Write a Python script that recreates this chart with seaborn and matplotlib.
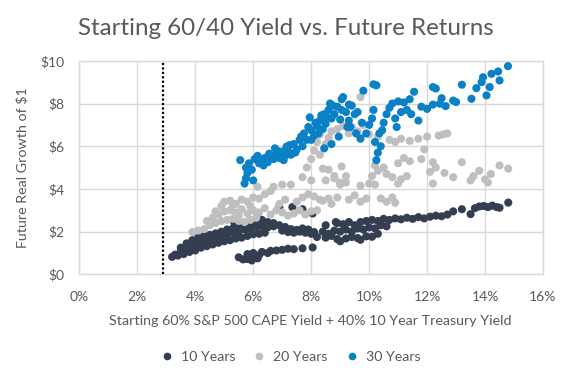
import pandas as pd
import matplotlib.pyplot as plt
import seaborn as sns
from matplotlib.lines import Line2D

# Future real growth of $1 vs starting 60/40 yield
# 10 Years
ten_x = [3.2, 3.4, 3.6, 3.8, 4.0, 4.2, 4.4, 4.6, 4.8, 5.0, 5.2, 5.4, 5.6, 5.8, 6.0, 6.2, 6.4,
         3.3, 3.5, 3.7, 3.9, 4.1, 4.3, 4.5, 4.7, 4.9, 5.1, 5.3, 5.5, 5.7, 5.9, 6.1, 6.3, 6.5, 6.7,
         3.5, 3.7, 3.9, 4.1, 4.3, 4.5, 4.7, 4.9, 5.1, 5.3, 5.5, 5.7, 5.9, 6.1, 6.3, 6.5, 6.7,
         6.9, 7.1, 7.3, 7.5, 7.7, 7.9, 8.1, 7.0, 7.2, 7.4, 7.6, 7.8, 8.0,
         5.35, 6.9, 7.35, 7.7, 8.05, 8.5, 8.85,
         5.5, 5.65, 5.8, 5.8, 6.0, 6.0, 6.2, 6.3, 6.5, 6.6, 6.8, 7.0, 7.2, 7.4, 7.7, 8.05, 5.95, 6.15,
         8.2, 8.5, 8.7, 8.9, 9.0, 9.2, 9.4, 9.6, 9.7, 9.9, 10.1, 10.3,
         8.4, 8.6, 8.8, 9.0, 9.2, 9.4, 9.6, 9.8, 10.0, 10.2, 10.4, 10.6,
         8.9, 9.1, 9.3, 9.5, 9.7, 9.9, 10.1, 10.3, 10.5, 10.7, 10.9, 11.1, 11.3, 11.5, 11.7,
         11.9, 12.1, 12.3, 12.5, 12.7, 12.9, 13.2, 13.5, 13.65, 13.8, 13.95, 14.1, 14.25, 14.4, 14.5, 14.8]
ten_y = [0.82, 0.88, 0.95, 1.05, 1.12, 1.25, 1.32, 1.40, 1.48, 1.55, 1.60, 1.68, 1.72, 1.80, 1.88, 1.90, 1.95,
         0.92, 1.10, 1.22, 1.35, 1.45, 1.55, 1.62, 1.70, 1.80, 1.88, 1.95, 2.02, 2.10, 2.15, 2.22, 2.25, 2.20, 2.25,
         1.25, 1.45, 1.60, 1.72, 1.80, 1.85, 1.92, 2.00, 2.10, 2.15, 2.25, 2.35, 2.40, 2.50, 2.55, 2.45, 2.40,
         2.30, 2.22, 2.12, 2.08, 2.15, 2.10, 1.98, 2.05, 1.98, 1.95, 2.00, 1.95, 1.90,
         2.40, 3.15, 3.15, 3.05, 2.85, 2.30, 2.45,
         0.80, 0.70, 0.72, 0.95, 0.82, 1.00, 0.90, 1.05, 1.00, 1.10, 1.12, 1.15, 1.20, 1.18, 1.22, 1.26, 0.65, 0.75,
         1.75, 1.72, 1.80, 1.65, 1.55, 1.68, 1.75, 1.70, 1.62, 1.78, 1.76, 1.90,
         2.00, 1.90, 2.05, 2.00, 2.10, 2.00, 2.15, 2.10, 2.20, 2.15, 2.30, 2.25,
         2.40, 2.35, 2.45, 2.30, 2.45, 2.50, 2.55, 2.50, 2.60, 2.55, 2.62, 2.58, 2.65, 2.60, 2.68,
         2.62, 2.70, 2.75, 2.72, 2.80, 2.95, 3.05, 2.82, 3.10, 3.18, 3.20, 3.15, 3.22, 3.15, 3.12, 3.36]

# 20 Years
twenty_x = [3.9, 4.1, 4.3, 4.5, 4.7, 4.9, 5.1, 5.3, 5.5, 5.7, 5.9, 6.1,
            4.4, 4.6, 4.8, 5.0, 5.2, 5.4, 5.6, 5.8, 6.0, 6.2, 6.4,
            4.9, 5.0, 5.2, 5.4, 5.6, 5.8, 6.0, 6.2, 6.4, 6.6, 6.15,
            6.6, 6.8, 7.0, 7.2, 7.4, 7.6, 7.8, 8.0, 8.2, 6.9, 7.1, 7.5, 7.7, 7.9, 8.1, 8.3, 8.6, 8.9,
            6.7, 7.0, 7.3, 7.7, 8.0, 8.4, 8.5, 8.8, 9.0, 9.2,
            7.85, 8.0, 8.1, 8.2, 8.3, 8.5, 8.6, 8.7, 8.9, 9.1, 9.3, 9.05, 8.3,
            9.4, 9.6, 9.7, 9.8, 10.0, 10.3, 10.7, 10.9, 11.1, 11.4, 11.7, 12.0, 12.4, 12.55, 12.7, 9.7,
            8.6, 8.8, 9.0, 9.2, 8.4, 8.7, 9.3, 9.5, 9.7, 9.9, 9.7, 10.0, 10.2, 10.1, 10.3, 10.5,
            10.6, 10.8, 10.4, 10.6, 10.8, 10.9, 11.0, 11.1, 11.3, 11.0, 11.2, 11.4, 11.8, 11.9, 12.2,
            12.3, 12.2, 12.6, 12.9, 13.2, 13.5, 13.6, 13.8, 14.0, 14.1, 14.2, 14.5, 14.8, 12.1, 10.2,
            4.7, 5.3, 5.5, 5.9]
twenty_y = [1.98, 2.05, 2.12, 2.30, 2.40, 2.50, 2.55, 2.60, 2.50, 2.45, 2.55, 2.65,
            2.50, 2.65, 2.80, 2.95, 3.00, 2.90, 3.05, 2.85, 3.00, 2.90, 3.10,
            3.20, 3.40, 3.45, 3.30, 3.50, 3.40, 3.60, 3.55, 3.75, 3.90, 4.10,
            2.80, 3.00, 2.90, 2.75, 2.85, 3.00, 2.80, 2.95, 3.00, 3.30, 3.50, 3.40, 3.60, 3.75, 3.65, 3.50, 3.55, 3.60,
            4.10, 4.20, 4.20, 4.55, 4.40, 4.95, 4.40, 4.50, 4.30, 4.60,
            5.00, 5.40, 5.80, 6.20, 5.60, 6.10, 6.40, 6.70, 6.80, 6.95, 6.60, 5.05, 6.55,
            6.90, 6.70, 6.40, 7.00, 6.55, 6.45, 6.30, 6.20, 6.35, 6.25, 6.35, 6.45, 6.50, 6.55, 6.60, 8.30,
            4.90, 4.60, 4.20, 4.30, 3.45, 3.30, 3.50, 3.70, 3.40, 3.55, 4.15, 4.25, 4.20, 4.60, 4.85, 5.00,
            4.70, 4.55, 3.55, 3.40, 3.60, 3.35, 4.25, 4.45, 4.60, 5.20, 5.45, 5.30, 5.40, 5.85, 5.25,
            5.00, 4.25, 4.75, 4.55, 5.25, 4.40, 4.60, 4.85, 4.45, 4.30, 4.70, 5.10, 4.95, 4.80, 5.10,
            2.95, 3.25, 2.75, 3.20]

# 30 Years
thirty_x = [5.55, 5.7, 5.75, 5.8, 5.75, 5.85, 5.95, 6.0, 6.05, 6.15, 6.2,
            6.3, 6.4, 6.5, 6.6, 6.7, 6.8, 6.9, 7.0, 7.1, 7.2, 6.75, 7.15, 7.3, 7.4, 7.5, 7.6, 7.7, 7.75,
            7.85, 7.95, 8.0, 8.1, 8.2, 8.3, 8.4, 8.45, 8.5, 8.6, 8.65, 8.7, 8.8, 8.9, 9.0, 9.1, 9.2, 9.3,
            9.25, 8.45, 8.7, 8.95,
            6.35, 6.55, 6.9, 7.05, 7.25, 7.45, 7.65, 7.9, 8.15, 8.35, 8.55, 8.75, 9.05, 8.0, 8.25,
            9.4, 9.6, 9.8, 9.3, 9.5, 9.35, 9.7, 9.9, 10.0, 10.15, 10.25, 10.1, 10.2, 10.3, 10.25, 10.4,
            10.35, 10.5, 10.6, 10.7, 10.8, 10.9, 10.95, 11.0, 11.1, 11.2, 11.3, 11.4, 11.55, 11.45,
            11.7, 11.8, 12.0, 9.75, 9.05, 10.45, 10.15, 9.55,
            12.2, 12.3, 12.2, 12.44, 12.5, 12.64, 12.9, 13.0, 13.2, 13.53, 13.7, 13.88, 13.93, 14.05,
            14.16, 14.22, 14.45, 14.5, 14.79]
thirty_y = [5.35, 4.25, 4.50, 4.75, 5.00, 5.20, 4.90, 4.40, 5.40, 5.55, 5.20,
            5.30, 5.45, 5.25, 5.50, 5.40, 5.60, 5.45, 5.75, 5.55, 5.80, 5.90, 5.98, 5.60, 6.10, 5.85, 6.30, 6.00, 6.60,
            6.30, 7.35, 6.75, 6.50, 6.95, 7.20, 6.80, 7.50, 7.05, 7.70, 8.00, 7.30, 7.50, 7.85, 7.25, 8.30, 7.60, 7.95,
            6.90, 5.90, 6.10, 6.45,
            5.10, 5.65, 5.75, 5.35, 6.05, 5.70, 6.45, 6.90, 7.10, 7.45, 7.35, 7.90, 7.70, 6.30, 6.60,
            7.90, 7.60, 8.60, 7.20, 7.50, 6.90, 6.35, 6.60, 7.00, 8.90, 8.85, 7.30, 6.20, 5.70, 5.35, 6.00,
            6.60, 7.10, 7.50, 7.80, 8.00, 7.30, 6.90, 8.10, 7.60, 8.05, 7.70, 8.20, 8.55, 7.50,
            7.20, 7.85, 7.75, 7.10, 8.20, 6.75, 7.70, 6.60,
            8.77, 8.70, 7.95, 7.99, 8.25, 7.88, 8.14, 8.07, 8.88, 8.22, 8.72, 9.00, 9.23, 8.38,
            8.77, 9.39, 9.50, 9.08, 9.75]

series_names = ['10 Years', '20 Years', '30 Years']
colors = ['#333F50', '#BFBFBF', '#0A80C6']
x_ticks = [0, 2, 4, 6, 8, 10, 12, 14, 16]
y_ticks = [0, 2, 4, 6, 8, 10]
current_yield = 2.9

frames = []
for name, xs, ys in zip(series_names, [ten_x, twenty_x, thirty_x], [ten_y, twenty_y, thirty_y]):
    frames.append(pd.DataFrame({'yield': xs, 'growth': ys, 'series': name}))
df = pd.concat(frames, ignore_index=True)

sns.set_theme(style='white')
plt.rcParams['font.family'] = ['Lato', 'DejaVu Sans']
text_color = '#595959'

fig, ax = plt.subplots(figsize=(5.71, 3.80), dpi=100)
fig.subplots_adjust(left=0.139, right=0.951, top=0.840, bottom=0.278)

sns.scatterplot(data=df, x='yield', y='growth', hue='series', hue_order=series_names,
                palette=colors, s=34, linewidth=0, alpha=1, legend=False, ax=ax, zorder=3)

ax.axvline(current_yield, color='black', linestyle=(0, (1, 1)), linewidth=1.6, zorder=4)

ax.set_xlim(0, 16)
ax.set_ylim(0, 10)
ax.set_xticks(x_ticks)
ax.set_xticklabels([f'{v}%' for v in x_ticks])
ax.set_yticks(y_ticks)
ax.set_yticklabels([f'${v}' for v in y_ticks])
ax.grid(True, color='#D9D9D9', linewidth=1)
ax.set_axisbelow(True)
for sp in ax.spines.values():
    sp.set_color('#D9D9D9')
    sp.set_linewidth(1)
ax.tick_params(axis='both', length=0, labelsize=10, colors=text_color)
ax.tick_params(axis='x', pad=12)
ax.tick_params(axis='y', pad=11)
ax.set_xlabel('')
ax.set_ylabel('')

fig.text(310.5 / 571, 1 - 321 / 380, 'Starting 60% S&P 500 CAPE Yield + 40% 10 Year Treasury Yield',
         ha='center', va='center', fontsize=10.3, color=text_color)
fig.text(22 / 571, 1 - 167.5 / 380, 'Future Real Growth of $1', rotation=90,
         ha='center', va='center', fontsize=10.3, color=text_color)
fig.text(0.5, 1 - 35 / 380, 'Starting 60/40 Yield vs. Future Returns',
         ha='center', va='baseline', fontsize=17.4, color=text_color)

handles = [Line2D([], [], marker='o', linestyle='', color=c, markersize=4.5) for c in colors]
fig.legend(handles, series_names, loc='center', bbox_to_anchor=(290 / 571, 1 - 357 / 380),
           ncol=3, frameon=False, fontsize=10.2, handlelength=1.0, handletextpad=0.5,
           columnspacing=1.2, labelcolor=text_color)

plt.savefig('out.png', dpi=100)
